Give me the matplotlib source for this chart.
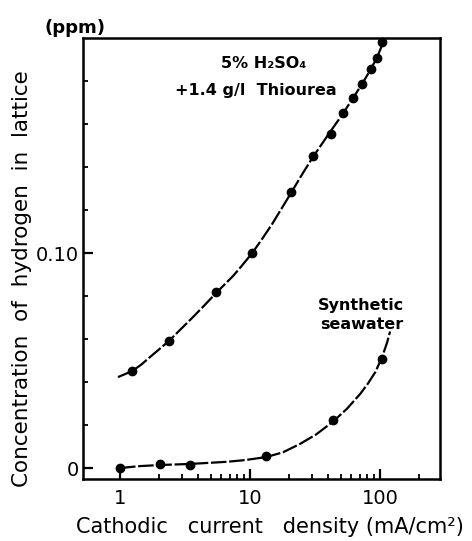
import matplotlib
matplotlib.use("Agg")
import matplotlib.pyplot as plt
from matplotlib.ticker import FixedLocator, FixedFormatter, NullFormatter

# 5% H2SO4 + thiourea: measured points and the hand-drawn curve through them
acid_x = [1.24, 2.38, 5.48, 10.4, 20.7, 30.5, 42.0, 51.9, 62.0, 72.7, 85.3, 94.8, 103.6]
acid_y = [0.0451, 0.0591, 0.0819, 0.100, 0.1284, 0.1451, 0.1553, 0.1651, 0.1721,
          0.1786, 0.1856, 0.1907, 0.1981]
acid_curve_x = [0.965, 1.24, 1.45, 1.70, 2.38, 2.89, 3.64, 4.43, 5.48, 7.40, 8.68,
                10.4, 12.37, 14.8, 20.7, 25.1, 30.5, 39.8, 51.9, 62.0, 72.7,
                83.8, 94.8, 103.6, 109.3]
acid_curve_y = [0.0423, 0.0451, 0.0480, 0.0516, 0.0591, 0.0642, 0.0702, 0.0755,
                0.0814, 0.0893, 0.0942, 0.100, 0.1065, 0.1135, 0.1280, 0.1365,
                0.1447, 0.1549, 0.1649, 0.1721, 0.1786, 0.1849, 0.1909, 0.1967,
                0.2009]

# synthetic seawater
sea_x = [1.0, 2.03, 3.45, 13.3, 43.5, 103.6]
sea_y = [0.0, 0.0019, 0.0014, 0.0056, 0.0223, 0.0507]
sea_curve_x = [1.0, 1.42, 2.03, 3.45, 6.65, 9.15, 13.3, 17.9, 24.2, 32.2, 43.5,
               55.7, 70.2, 80.9, 92.1, 103.6, 113.2, 119.4]
sea_curve_y = [0.0, 0.0009, 0.0014, 0.0019, 0.0029, 0.0037, 0.0051, 0.0073,
               0.0112, 0.0156, 0.0216, 0.0276, 0.0344, 0.0394, 0.0447, 0.0516,
               0.0583, 0.0635]

x_major = [1, 10, 100]
x_major_labels = ["1", "10", "100"]
x_minor = [2, 3, 4, 5, 6, 7, 8, 9, 20, 30, 40, 50, 60, 70, 80, 90, 200]
y_major = [0.0, 0.10]
y_major_labels = ["0", "0.10"]
y_minor = [0.02, 0.04, 0.06, 0.08, 0.12, 0.14, 0.16, 0.18]

plt.rcParams['font.family'] = ['DejaVu Sans']

fig = plt.figure(figsize=(4.72, 5.41), dpi=100)
ax = fig.add_axes([0.1758, 0.1146, 0.7564, 0.8152])

line_kw = dict(color='black', lw=1.6, dashes=(7, 1.2), solid_capstyle='butt')
ax.plot(acid_curve_x, acid_curve_y, **line_kw)
ax.plot(sea_curve_x, sea_curve_y, **line_kw)
ax.plot(acid_x, acid_y, 'o', color='black', ms=6, clip_on=False)
ax.plot(sea_x, sea_y, 'o', color='black', ms=6, clip_on=False)

ax.set_xscale('log')
ax.set_xlim(0.519, 289)
ax.set_ylim(-0.0051, 0.2)

ax.xaxis.set_major_locator(FixedLocator(x_major))
ax.xaxis.set_major_formatter(FixedFormatter(x_major_labels))
ax.xaxis.set_minor_locator(FixedLocator(x_minor))
ax.xaxis.set_minor_formatter(NullFormatter())
ax.yaxis.set_major_locator(FixedLocator(y_major))
ax.yaxis.set_major_formatter(FixedFormatter(y_major_labels))
ax.yaxis.set_minor_locator(FixedLocator(y_minor))

ax.tick_params(which='major', direction='in', length=7, width=1.6, labelsize=14)
ax.tick_params(which='minor', direction='in', length=3.5, width=1.3)
ax.tick_params(axis='x', which='major', pad=7)
ax.tick_params(axis='y', which='major', pad=3)
for s in ax.spines.values():
    s.set_linewidth(1.8)

ax.text(0.507, 0.943, "5% H\u2082SO\u2084", transform=ax.transAxes, ha='center',
        va='center', fontsize=11.5, fontweight='bold')
ax.text(0.485, 0.88, "+1.4 g/l  Thiourea", transform=ax.transAxes, ha='center',
        va='center', fontsize=11.5, fontweight='bold')
ax.text(0.78, 0.372, "Synthetic\nseawater", transform=ax.transAxes, ha='center',
        va='center', fontsize=11.5, fontweight='bold', linespacing=1.4)

fig.text(75 / 472, 1 - 28 / 541, "(ppm)", ha='center', va='center', fontsize=13,
         fontweight='bold')
fig.text(22 / 472, 1 - 279 / 541, "Concentration  of  hydrogen  in  lattice",
         rotation=90, ha='center', va='center', fontsize=15.5)
fig.text(270 / 472, 1 - 527 / 541, "Cathodic   current   density (mA/cm\u00b2)",
         ha='center', va='center', fontsize=15)

fig.savefig("out.png", dpi=100)
